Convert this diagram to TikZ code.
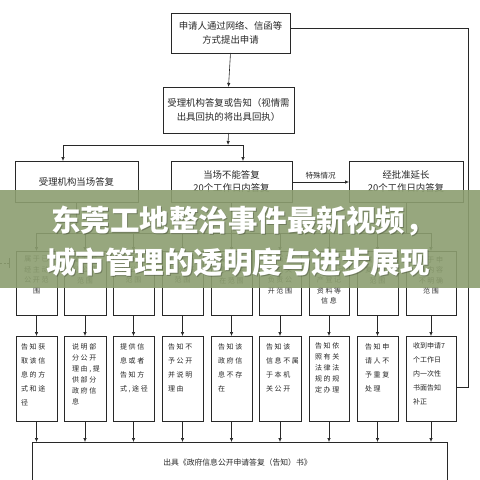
\documentclass[tikz,border=0pt]{standalone}
\usepackage{fontspec}
\usetikzlibrary{arrows.meta}
\newfontfamily\cjk{Noto Sans CJK SC}
\newfontfamily\cjksp[LetterSpace=22]{Noto Sans CJK SC}
\definecolor{banner}{RGB}{140,158,112}
\definecolor{linec}{RGB}{40,40,40}
\tikzset{
  frame/.style={draw=linec, line width=0.6pt, inner sep=0pt, outer sep=0pt},
  bigtext/.style={font=\cjk\fontsize{9.4}{13.5}\selectfont, align=center, inner sep=0pt, text=linec},
  utext/.style={font=\cjksp\fontsize{7}{10.5}\selectfont, align=center, inner sep=0pt, anchor=north, text=linec},
  ltext/.style={font=\cjksp\fontsize{7}{14}\selectfont, align=left, inner sep=0pt, anchor=north west, text=linec},
  ltextt/.style={font=\cjksp\fontsize{7}{11}\selectfont, align=left, inner sep=0pt, anchor=north west, text=linec},
  arr/.style={draw=linec, line width=0.6pt, -{Latex[length=4pt,width=3.4pt]}},
  ln/.style={draw=linec, line width=0.6pt},
  bantext/.style={font=\cjk\bfseries\fontsize{29.5}{29.5}\selectfont, inner sep=0pt, anchor=west},
}
\begin{document}
\begin{tikzpicture}[x=1pt,y=-1pt]
\useasboundingbox (0,0) rectangle (480,480);
\fill[white] (0,0) rectangle (480,480);
% top boxes
\node[frame, minimum width=119pt, minimum height=40pt] (T) at (230.5,33) {};
\node[bigtext] (Tt) at (T.center) {申请人通过网络、信函等\\方式提出申请};
\node[frame, minimum width=131pt, minimum height=46pt] (R) at (228.5,110) {};
\node[bigtext] (Rt) at (R.center) {受理机构答复或告知（视情需\\出具回执的将出具回执）};
\node[frame, minimum width=123pt, minimum height=41pt] (A) at (76.5,181.5) {};
\node[bigtext] (At) at (A.center) {受理机构当场答复};
\node[frame, minimum width=121pt, minimum height=41pt] (B) at (231.5,181.5) {};
\node[bigtext] (Bt) at (B.center) {当场不能答复\\20个工作日内答复};
\node[frame, minimum width=114pt, minimum height=41pt] (C) at (406,181.5) {};
\node[bigtext] (Ct) at (C.center) {经批准延长\\20个工作日内答复};
% connectors top
\draw[arr] (T.south) -- (R.north);
\coordinate (jm) at (228,145);
\coordinate (ja) at (63,145);
\coordinate (jb) at (243,145);
\draw[arr] (R.south) -- (jm);
\draw[ln] (ja) -- (jb);
\draw[arr] (ja) -- (ja |- A.north);
\draw[arr] (jb) -- (jb |- B.north);
\coordinate (sc) at (0,182);
\draw[arr] (B.east |- sc) -- node[above=3pt, font=\cjk\fontsize{7.5}{9}\selectfont, text=linec, inner sep=0pt] (sl) {特殊情况} (C.west |- sc);
% row 4 boxes
\foreach \i/\l/\r in {1/16/57,2/64/106,3/113/154,4/162/203,5/211/252,6/259/301,7/309/349,8/357/398,9/406/456}{
  \node[frame, minimum width={\r-\l}, minimum height=64pt] (u\i) at ({(\l+\r)/2},283) {};
  \node[frame, minimum width={\r-\l}, minimum height=85pt] (l\i) at ({(\l+\r)/2},378.5) {};
}
\node[utext] (ut1) at ([yshift=-5pt]u1.north) {属于已\\经主动\\公开范\\围};
\node[utext] (ut2) at ([yshift=-5pt]u2.north) {属于部\\分公开\\范围};
\node[utext] (ut3) at ([yshift=-5pt]u3.north) {属于可\\以公开\\范围};
\node[utext] (ut4) at ([yshift=-5pt]u4.north) {属于不\\予公开\\范围};
\node[utext] (ut5) at ([yshift=-5pt]u5.north) {属于信\\息不存\\在范围};
\node[utext] (ut6) at ([yshift=-5pt]u6.north) {不属于\\本机关\\负责公\\开范围};
\node[utext] (ut7) at ([yshift=-5pt]u7.north) {属于工\\商、不动\\产登记\\资料等\\信息};
\node[utext] (ut8) at ([yshift=-5pt]u8.north) {属于重\\复申请\\范围};
\node[utext] (ut9) at ([yshift=-5pt]u9.north) {属于申\\请内容\\不明确\\范围};
\node[ltext] (lt1) at ([xshift=5pt,yshift=-7pt]l1.north west) {告知获\\取该信\\息的方\\式和途\\径};
\node[ltextt] (lt2) at ([xshift=8pt,yshift=-7pt]l2.north west) {说明部\\分公开\\理由,提\\供部分\\政府信\\息};
\node[ltext] (lt3) at ([xshift=7pt,yshift=-7pt]l3.north west) {提供信\\息或者\\告知方\\式,途径};
\node[ltext] (lt4) at ([xshift=6pt,yshift=-7pt]l4.north west) {告知不\\予公开\\并说明\\理由};
\node[ltext] (lt5) at ([xshift=7pt,yshift=-7pt]l5.north west) {告知该\\政府信\\息不存\\在};
\node[ltext] (lt6) at ([xshift=7pt,yshift=-7pt]l6.north west) {告知该\\信息不属\\于本机\\关公开};
\node[ltextt] (lt7) at ([xshift=6pt,yshift=-6pt]l7.north west) {告知依\\照有关\\法律法\\规的规\\定办理};
\node[ltext] (lt8) at ([xshift=8pt,yshift=-7pt]l8.north west) {告知申\\请人不\\予重复\\处理};
\node[ltext, font=\cjk\fontsize{7}{14}\selectfont] (lt9) at ([xshift=7pt,yshift=-6pt]l9.north west) {收到申请7\\个工作日\\内一次性\\书面告知\\补正};
% final box
\node[frame, minimum width=415pt, minimum height=42pt] (F) at (239.5,463) {};
\node[font=\cjk\fontsize{7.8}{9}\selectfont, text=linec, inner sep=0pt] (Ft) at (237.5,463) {出具《政府信息公开申请答复（告知）书》};
% bus and arrows
\coordinate (bus) at (0,233);
\draw[ln] (u1.north |- bus) -- (u9.north |- bus);
\draw[ln] (A.south) -- (A.south |- bus);
\draw[ln] (B.south) -- (B.south |- bus);
\draw[ln] (C.south) -- (C.south |- bus);
\foreach \i in {1,...,9}{
  \draw[arr] (u\i.north |- bus) -- (u\i.north);
  \draw[arr] (u\i.south) -- (l\i.north);
  \draw[arr] (l\i.south) -- (l\i.south |- F.north);
}
% right loop
\coordinate (rtop) at (468,28);
\coordinate (rbot) at (468,387);
\draw[ln] (T.east |- rtop) -- (rtop) -- (rbot) -- (l9.east |- rbot);
% left fragment
\coordinate (lf0) at (0,263);
\coordinate (lf1) at (9,263);
\draw[ln, dashed, dash pattern=on 2pt off 1.5pt] (lf0) -- (lf1);
\draw[ln] ([yshift=5pt]lf1) -- ([yshift=-5pt]lf1);
% banner
\fill[banner, opacity=0.9] (0,190) rectangle (480,288);
\node[bantext, text=black, opacity=0.25] at (52,222) {东莞工地整治事件最新视频，};
\node[bantext, text=black, opacity=0.25] at (47,263) {城市管理的透明度与进步展现};
\node[bantext, text=white] (b1) at (51,221) {东莞工地整治事件最新视频，};
\node[bantext, text=white] (b2) at (46,262) {城市管理的透明度与进步展现};
\end{tikzpicture}
\end{document}
